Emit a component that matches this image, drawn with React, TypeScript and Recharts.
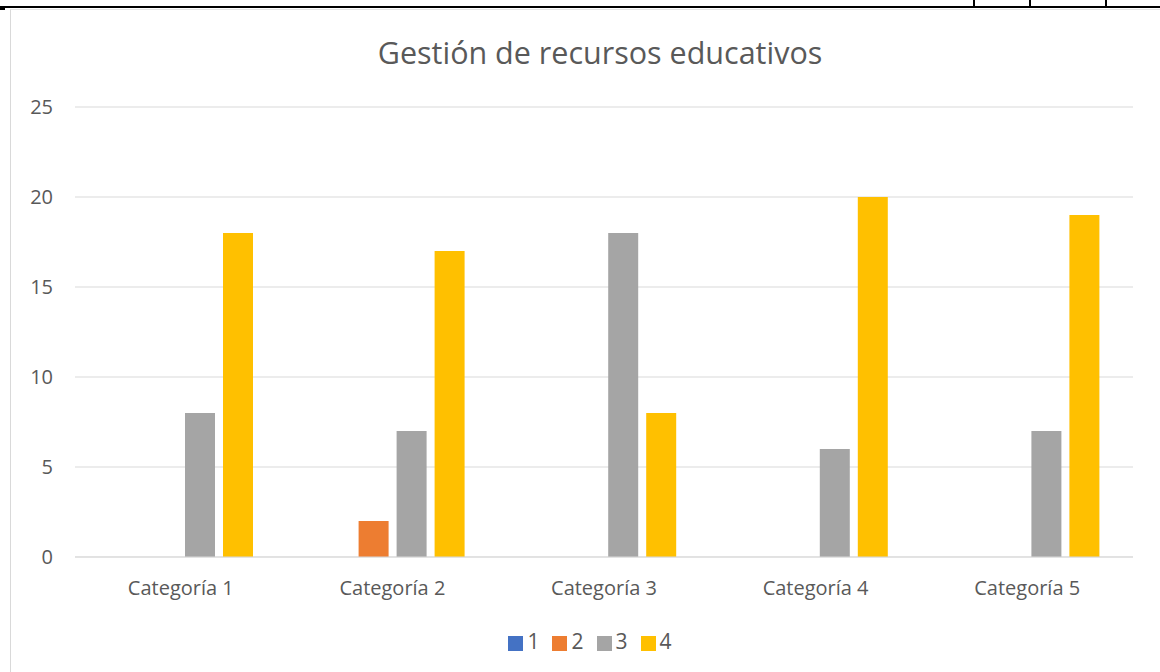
import React from 'react';
import { BarChart, Bar, XAxis, YAxis, CartesianGrid, Legend } from 'recharts';

const categories = ['Categoría 1', 'Categoría 2', 'Categoría 3', 'Categoría 4', 'Categoría 5'];
const serie1 = [0, 0, 0, 0, 0];
const serie2 = [0, 2, 0, 0, 0];
const serie3 = [8, 7, 18, 6, 7];
const serie4 = [18, 17, 8, 20, 19];
const yTicks = [0, 5, 10, 15, 20, 25];

const data = categories.map((name, i) => ({
  name,
  s1: serie1[i],
  s2: serie2[i],
  s3: serie3[i],
  s4: serie4[i],
}));

const font = '"Open Sans", "Liberation Sans", sans-serif';
const textColor = '#595959';

export default function App() {
  return (
    <div style={{ position: 'absolute', left: 0, top: 0, width: 1160, height: 672, background: '#fff', overflow: 'hidden', fontFamily: font }}>
      {/* bits of the document table around the chart */}
      <div style={{ position: 'absolute', left: 0, top: 6, width: 1160, height: 2, background: '#000' }} />
      <div style={{ position: 'absolute', left: 973, top: 0, width: 2, height: 8, background: '#000' }} />
      <div style={{ position: 'absolute', left: 1029, top: 0, width: 2, height: 8, background: '#000' }} />
      <div style={{ position: 'absolute', left: 1105, top: 0, width: 2, height: 8, background: '#000' }} />
      <div style={{ position: 'absolute', left: 0, top: 8, width: 5, height: 2, background: '#000' }} />
      <div style={{ position: 'absolute', left: 10, top: 9, width: 1150, height: 663, borderLeft: '1px solid #d9d9d9', borderTop: '1px solid #e6e6e6' }} />

      <div style={{ position: 'absolute', left: 40, top: 29, width: 1120, textAlign: 'center', fontSize: 30.5, color: textColor, lineHeight: '46px' }}>
        Gestión de recursos educativos
      </div>

      <div style={{ position: 'absolute', left: 0, top: 0 }}>
        <BarChart
          width={1160}
          height={672}
          data={data}
          margin={{ top: 107, right: 27, left: 0, bottom: 49 }}
          barSize={30}
          barGap={8}
        >
          <CartesianGrid vertical={false} stroke="#d9d9d9" />
          <XAxis
            dataKey="name"
            height={40}
            stroke="#d9d9d9"
            tickLine={false}
            tickMargin={18}
            tick={{ fill: textColor, fontSize: 20, fontFamily: font }}
          />
          <YAxis
            width={75}
            domain={[0, 25]}
            ticks={yTicks}
            axisLine={false}
            tickLine={false}
            tickSize={0}
            tickMargin={22}
            tick={{ fill: textColor, fontSize: 20, fontFamily: font }}
          />
          <Legend
            verticalAlign="bottom"
            iconType="square"
            iconSize={15}
            wrapperStyle={{ top: 627, left: 30, height: 26, fontFamily: font, fontSize: 21 }}
            formatter={(value) => <span style={{ color: textColor, marginRight: 3 }}>{value}</span>}
          />
          <Bar dataKey="s1" name="1" fill="#4472C4" isAnimationActive={false} />
          <Bar dataKey="s2" name="2" fill="#ED7D31" isAnimationActive={false} />
          <Bar dataKey="s3" name="3" fill="#A5A5A5" isAnimationActive={false} />
          <Bar dataKey="s4" name="4" fill="#FFC000" isAnimationActive={false} />
        </BarChart>
      </div>
    </div>
  );
}
